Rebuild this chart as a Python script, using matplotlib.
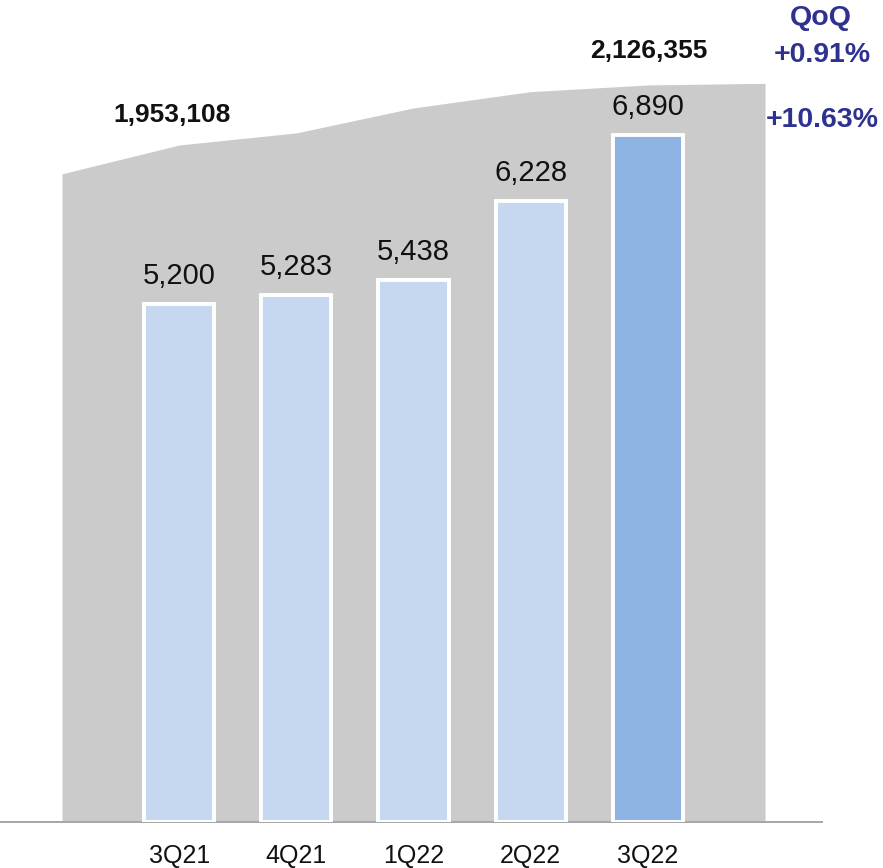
import numpy as np
import matplotlib.pyplot as plt

plt.rcParams['font.family'] = ['Liberation Sans', 'DejaVu Sans']

# 季度数据
quarters = ['3Q21', '4Q21', '1Q22', '2Q22', '3Q22']
bar_values = [5200, 5283, 5438, 6228, 6890]
bar_labels = ['5,200', '5,283', '5,438', '6,228', '6,890']

# 背景面积（含左右两端延伸点）
area_pos = [-1, 0, 1, 2, 3, 4, 5]
area_values = [1870000, 1953108, 1988000, 2060000, 2107000, 2126355, 2131000]
area_labels = {0: '1,953,108', 4: '2,126,355'}

qoq_text = ['QoQ', '+0.91%', '+10.63%']

W, H = 883, 868
fig = plt.figure(figsize=(W / 100, H / 100), dpi=100)

base_px = 46
ax = fig.add_axes([0, base_px / H, 822 / W, (H - base_px) / H])
ax.set_xlim(-1.529, 5.486)
ax.set_ylim(0, 2371400)

ax.fill_between(area_pos, 0, area_values, color='#CBCBCB', linewidth=0, zorder=1)
label_offsets = {0: (-5, 13), 4: (1, 16)}
for i, txt in area_labels.items():
    ax.annotate(txt, (i, area_values[i + 1]), xytext=label_offsets[i],
                textcoords='offset points', ha='center', va='bottom',
                fontsize=19, fontweight='bold', color='#111111')

ax2 = ax.twinx()
ax2.set_ylim(0, 8245)
x = np.arange(len(quarters))
colors = ['#C6D8F0'] * 4 + ['#8EB4E3']
ax2.bar(x, bar_values, width=0.6, color=colors, edgecolor='white', linewidth=2.8, zorder=3)
for xi, v, lab in zip(x, bar_values, bar_labels):
    ax2.annotate(lab, (xi, v), xytext=(0, 10), textcoords='offset points',
                 ha='center', va='bottom', fontsize=21, color='#111111')

for a in (ax, ax2):
    for s in ['top', 'right', 'left']:
        a.spines[s].set_visible(False)
    a.set_yticks([])
ax2.spines['bottom'].set_visible(False)
ax.spines['bottom'].set_color('#A6A6A6')
ax.spines['bottom'].set_linewidth(1.4)
ax.spines['bottom'].set_zorder(5)

ax.set_xticks(x)
ax.set_xticklabels(quarters, fontsize=18, color='#111111')
ax.tick_params(axis='x', length=0, pad=16)
ax.patch.set_visible(False)
ax2.patch.set_visible(False)

navy = '#2E3190'
fig.text(821 / W, 1 - 18 / H, qoq_text[0], ha='center', va='center',
         fontsize=20.5, fontweight='bold', color=navy)
fig.text(822 / W, 1 - 55 / H, qoq_text[1], ha='center', va='center',
         fontsize=20.5, fontweight='bold', color=navy)
fig.text(822 / W, 1 - 120 / H, qoq_text[2], ha='center', va='center',
         fontsize=20.5, fontweight='bold', color=navy)

fig.savefig('out.png', dpi=100)
